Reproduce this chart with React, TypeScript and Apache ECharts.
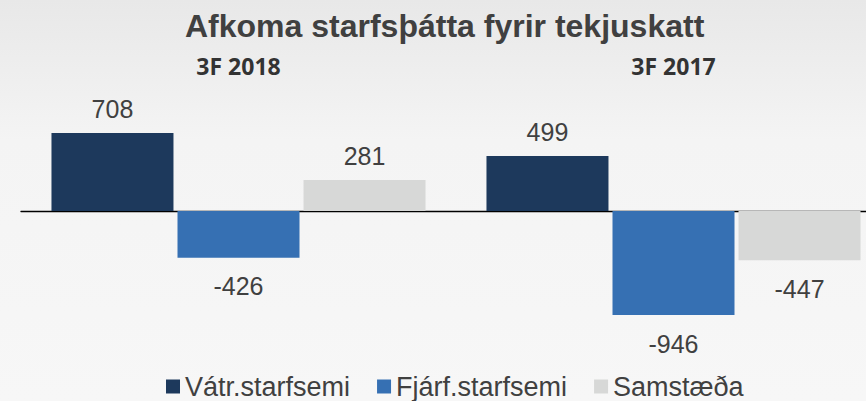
import React, { useEffect, useRef } from "react";
import * as echarts from "echarts";

const categories = ["3F 2018", "3F 2017"];
const seriesNames = ["Vátr.starfsemi", "Fjárf.starfsemi", "Samstæða"];
const vatrValues = [708, 499];
const fjarfValues = [-426, -946];
const samstValues = [281, -447];
const colors = ["#1d395c", "#3670b3", "#d7d8d7"];
const titleText = "Afkoma starfsþátta fyrir tekjuskatt";

function makeData(values: number[]) {
  return values.map((v) => ({
    value: v,
    label: {
      position: v < 0 ? "bottom" : "top",
      distance: v < 0 ? 16 : 12,
    },
  }));
}

export default function App() {
  const ref = useRef<HTMLDivElement>(null);
  useEffect(() => {
    if (!ref.current) return;
    const chart = echarts.init(ref.current, undefined, { renderer: "svg" });
    const seriesValues = [vatrValues, fjarfValues, samstValues];
    chart.setOption({
      animation: false,
      backgroundColor: new echarts.graphic.LinearGradient(0, 0, 0, 1, [
        { offset: 0, color: "#e8e8e8" },
        { offset: 0.35, color: "#f4f4f4" },
        { offset: 1, color: "#f7f7f7" },
      ]),
      title: {
        text: titleText,
        left: 185,
        top: 10,
        padding: 0,
        textStyle: {
          fontFamily: "Liberation Sans, Arial, sans-serif",
          fontSize: 32,
          fontWeight: "bold",
          color: "#404040",
        },
      },
      legend: {
        data: seriesNames,
        left: 166,
        top: 373,
        padding: 0,
        itemWidth: 14,
        itemHeight: 14,
        itemGap: 27,
        icon: "rect",
        textStyle: {
          fontFamily: "Liberation Sans, Arial, sans-serif",
          fontSize: 27,
          lineHeight: 27,
          color: "#404040",
        },
      },
      grid: { left: 21, width: 870, top: 101, bottom: 58, outerBoundsMode: "none", containLabel: false },
      xAxis: [
        {
          type: "category",
          data: categories,
          position: "bottom",
          axisLine: { show: true, onZero: true, lineStyle: { color: "#000", width: 1.3 } },
          axisTick: { show: false },
          axisLabel: { show: false },
          splitLine: { show: false },
        },
        {
          type: "category",
          data: categories,
          position: "top",
          axisLine: { show: false, onZero: false },
          axisTick: { show: false },
          axisLabel: {
            show: true,
            margin: 24,
            fontFamily: "Open Sans, sans-serif",
            fontWeight: "bold",
            fontSize: 23,
            color: "#333333",
          },
          splitLine: { show: false },
        },
      ],
      yAxis: {
        type: "value",
        min: -1200,
        max: 1000,
        show: false,
        splitLine: { show: false },
      },
      series: seriesNames.map((name, i) => ({
        name,
        type: "bar",
        xAxisIndex: 0,
        barWidth: 122,
        barGap: "3.3%",
        itemStyle: { color: colors[i] },
        label: {
          show: true,
          fontFamily: "Liberation Sans, Arial, sans-serif",
          fontSize: 25,
          color: "#404040",
        },
        data: makeData(seriesValues[i]),
      })),
    });
    return () => chart.dispose();
  }, []);
  return (
    <div
      ref={ref}
      style={{ position: "absolute", left: 0, top: 0, width: 866, height: 401 }}
    />
  );
}
